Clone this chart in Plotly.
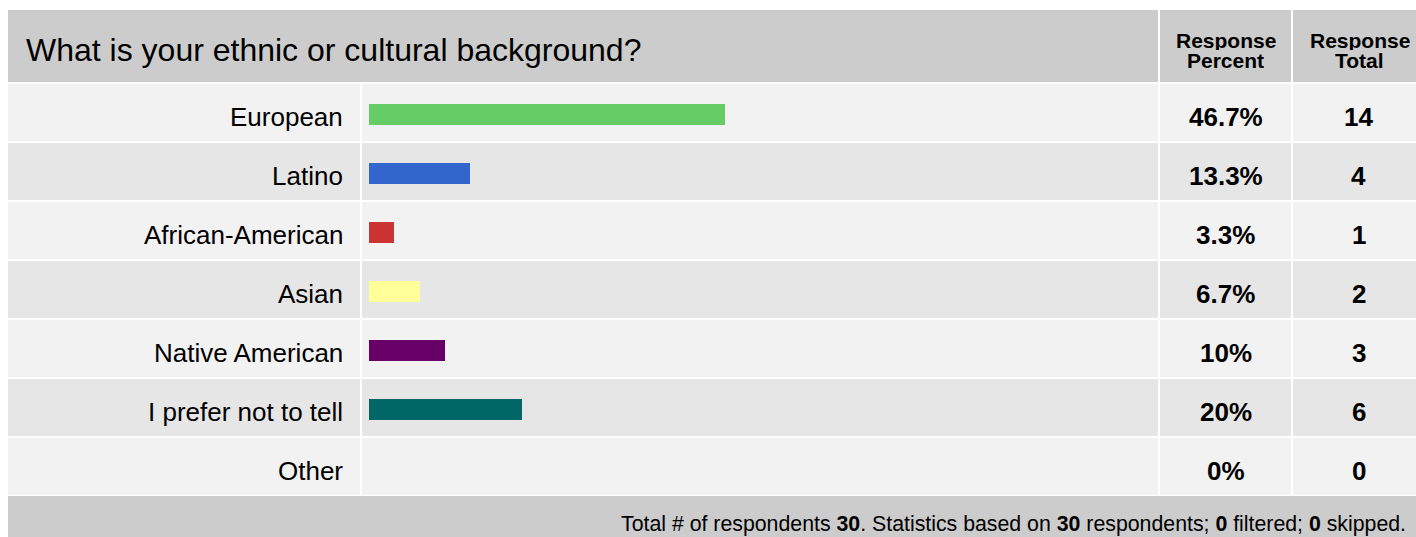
import plotly.graph_objects as go

# ---- data ----
categories = ["European", "Latino", "African-American", "Asian",
              "Native American", "I prefer not to tell", "Other"]
percents = [46.7, 13.3, 3.3, 6.7, 10, 20, 0]
percent_labels = ["46.7%", "13.3%", "3.3%", "6.7%", "10%", "20%", "0%"]
totals = [14, 4, 1, 2, 3, 6, 0]
bar_colors = ["#66cc66", "#3366cc", "#cc3333", "#ffff99", "#660066", "#006666", "#999999"]
question = "What is your ethnic or cultural background?"
header_percent = ["Response", "Percent"]
header_total = ["Response", "Total"]
respondents_total = 30
respondents_based = 30
filtered = 0
skipped = 0

# ---- layout geometry (window pixels) ----
W, H = 1416, 537
FONT = "Arial, 'Liberation Sans', Helvetica, sans-serif"
TABLE_L = 8
TABLE_T = 10
HEADER_B = 82
ROW_TOP0 = 82
ROW_PITCH = 59
GAP = 2
COL_LABEL_R = 360
COL_BAR_R = 1158
COL_PCT_R = 1291
TABLE_R = 1440
FOOTER_T = ROW_TOP0 + ROW_PITCH * len(categories) + 1
BAR_X0 = 369
BAR_X100 = 1132


def px(x):
    return x / W


def py(y):
    return 1 - y / H


shapes = []


def rect(x0, y0, x1, y1, color):
    shapes.append(dict(type="rect", xref="paper", yref="paper",
                       x0=px(x0), x1=px(x1), y0=py(y1), y1=py(y0),
                       fillcolor=color, line=dict(width=0), layer="below"))


# header
rect(TABLE_L, TABLE_T, COL_BAR_R, HEADER_B, "#cccccc")
rect(COL_BAR_R + GAP, TABLE_T, COL_PCT_R, HEADER_B, "#cccccc")
rect(COL_PCT_R + GAP, TABLE_T, TABLE_R, HEADER_B, "#cccccc")

# rows
for i in range(len(categories)):
    top = ROW_TOP0 + i * ROW_PITCH + GAP
    bot = ROW_TOP0 + (i + 1) * ROW_PITCH
    c = "#f2f2f2" if i % 2 == 0 else "#e6e6e6"
    rect(TABLE_L, top, COL_LABEL_R, bot, c)
    rect(COL_LABEL_R + GAP, top, COL_BAR_R, bot, c)
    rect(COL_BAR_R + GAP, top, COL_PCT_R, bot, c)
    rect(COL_PCT_R + GAP, top, TABLE_R, bot, c)

# footer
rect(TABLE_L, FOOTER_T, TABLE_R, H + 20, "#cccccc")

fig = go.Figure()
fig.add_trace(go.Bar(
    x=percents, y=categories, orientation="h",
    marker=dict(color=bar_colors, line=dict(width=0)),
    width=0.36, hoverinfo="skip", showlegend=False,
))

rows_top = ROW_TOP0 + 1
rows_bot = ROW_TOP0 + 1 + ROW_PITCH * len(categories)
bar_shift = 1.5
fig.update_layout(
    width=W, height=H,
    margin=dict(l=0, r=0, t=0, b=0),
    paper_bgcolor="white", plot_bgcolor="rgba(0,0,0,0)",
    shapes=shapes,
    xaxis=dict(domain=[px(BAR_X0), px(BAR_X100)], range=[0, 100],
               visible=False, fixedrange=True),
    yaxis=dict(domain=[py(rows_bot + bar_shift), py(rows_top + bar_shift)],
               categoryorder="array", categoryarray=categories,
               autorange="reversed", visible=False, fixedrange=True),
    bargap=0,
)

ann = []
text_shift = -bar_shift - 1
for cat, pl, tot in zip(categories, percent_labels, totals):
    ann.append(dict(x=px(345), y=cat, xref="paper", yref="y", text=cat,
                    xanchor="right", yanchor="middle", showarrow=False,
                    yshift=text_shift,
                    font=dict(family=FONT, size=26, color="#000000")))
    ann.append(dict(x=px((COL_BAR_R + GAP + COL_PCT_R) / 2), y=cat, xref="paper", yref="y",
                    text="<b>" + pl + "</b>", xanchor="center", yanchor="middle",
                    showarrow=False, yshift=text_shift,
                    font=dict(family=FONT, size=26, color="#000000")))
    ann.append(dict(x=px(1358.5), y=cat, xref="paper", yref="y",
                    text="<b>" + str(tot) + "</b>", xanchor="center", yanchor="middle",
                    showarrow=False, yshift=text_shift,
                    font=dict(family=FONT, size=26, color="#000000")))

# title
ann.append(dict(x=px(24), y=py(50), xref="paper", yref="paper", text=question,
                xanchor="left", yanchor="middle", showarrow=False,
                font=dict(family=FONT, size=32, color="#000000")))
# column headers (two separate lines for tight line spacing)
for j, (a, b) in enumerate(zip(header_percent, header_total)):
    ypos = 39.5 + 20.5 * j
    ann.append(dict(x=px(1225.5), y=py(ypos), xref="paper", yref="paper",
                    text="<b>" + a + "</b>", xanchor="center", yanchor="middle",
                    height=20, showarrow=False,
                    font=dict(family=FONT, size=21, color="#000000")))
    ann.append(dict(x=px(1359.5), y=py(ypos), xref="paper", yref="paper",
                    text="<b>" + b + "</b>", xanchor="center", yanchor="middle",
                    height=20, showarrow=False,
                    font=dict(family=FONT, size=21, color="#000000")))

footer = ("Total # of respondents <b>%d</b>. Statistics based on <b>%d</b> respondents; "
          "<b>%d</b> filtered; <b>%d</b> skipped." % (respondents_total, respondents_based,
                                                      filtered, skipped))
ann.append(dict(x=px(1408), y=py(523.5), xref="paper", yref="paper", text=footer,
                xanchor="right", yanchor="middle", showarrow=False,
                font=dict(family=FONT, size=21.3, color="#000000")))

fig.update_layout(annotations=ann)
fig.write_html(
    "out.html",
    config={"displayModeBar": False},
    post_script="document.body.style.margin='0';document.body.style.overflow='hidden';",
)
